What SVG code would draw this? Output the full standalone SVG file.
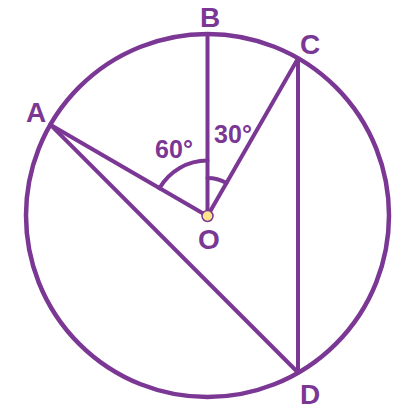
<svg xmlns="http://www.w3.org/2000/svg" width="403" height="419" viewBox="0 0 403 419">
<style>
.ln{stroke:#7b3794;stroke-width:4;fill:none;stroke-linecap:round}
.cir{stroke:#7b3794;stroke-width:4.5;fill:none}
.lbl{font-family:"Liberation Sans",Arial,sans-serif;font-weight:bold;font-size:28px;fill:#7b3794;text-anchor:middle}
.ang{font-family:"Liberation Sans",Arial,sans-serif;font-weight:bold;font-size:25px;fill:#7b3794;text-anchor:middle}
</style>
<rect width="403" height="419" fill="#ffffff"/>
<g id="circle"><circle class="cir" cx="207.5" cy="215.5" r="181.5"/></g>
<g id="connectors">
<line class="ln" x1="207.5" y1="216" x2="50.3" y2="124.7"/>
<line class="ln" x1="207.5" y1="216" x2="207.5" y2="34"/>
<line class="ln" x1="207.5" y1="216" x2="298" y2="58.5"/>
<line class="ln" x1="298" y1="58.5" x2="298" y2="372.5"/>
<line class="ln" x1="50.3" y1="124.7" x2="298" y2="372.5"/>
<path class="ln" d="M 207.5 160.5 A 55.5 55.5 0 0 0 159.4 188.25"/>
<path class="ln" d="M 207.5 178 A 38 38 0 0 1 226.5 183.1"/>
</g>
<g id="O"><circle cx="207.5" cy="216" r="5.5" fill="#fde68a" stroke="#7b3794" stroke-width="1.5"/><text class="lbl" x="209" y="249">O</text></g>
<g id="A"><text class="lbl" x="36" y="122">A</text></g>
<g id="B"><text class="lbl" x="210" y="27">B</text></g>
<g id="C"><text class="lbl" x="310" y="54">C</text></g>
<g id="D"><text class="lbl" x="310" y="404">D</text></g>
<g id="angles"><text class="ang" x="174" y="158">60°</text><text class="ang" x="233" y="143">30°</text></g>
</svg>
